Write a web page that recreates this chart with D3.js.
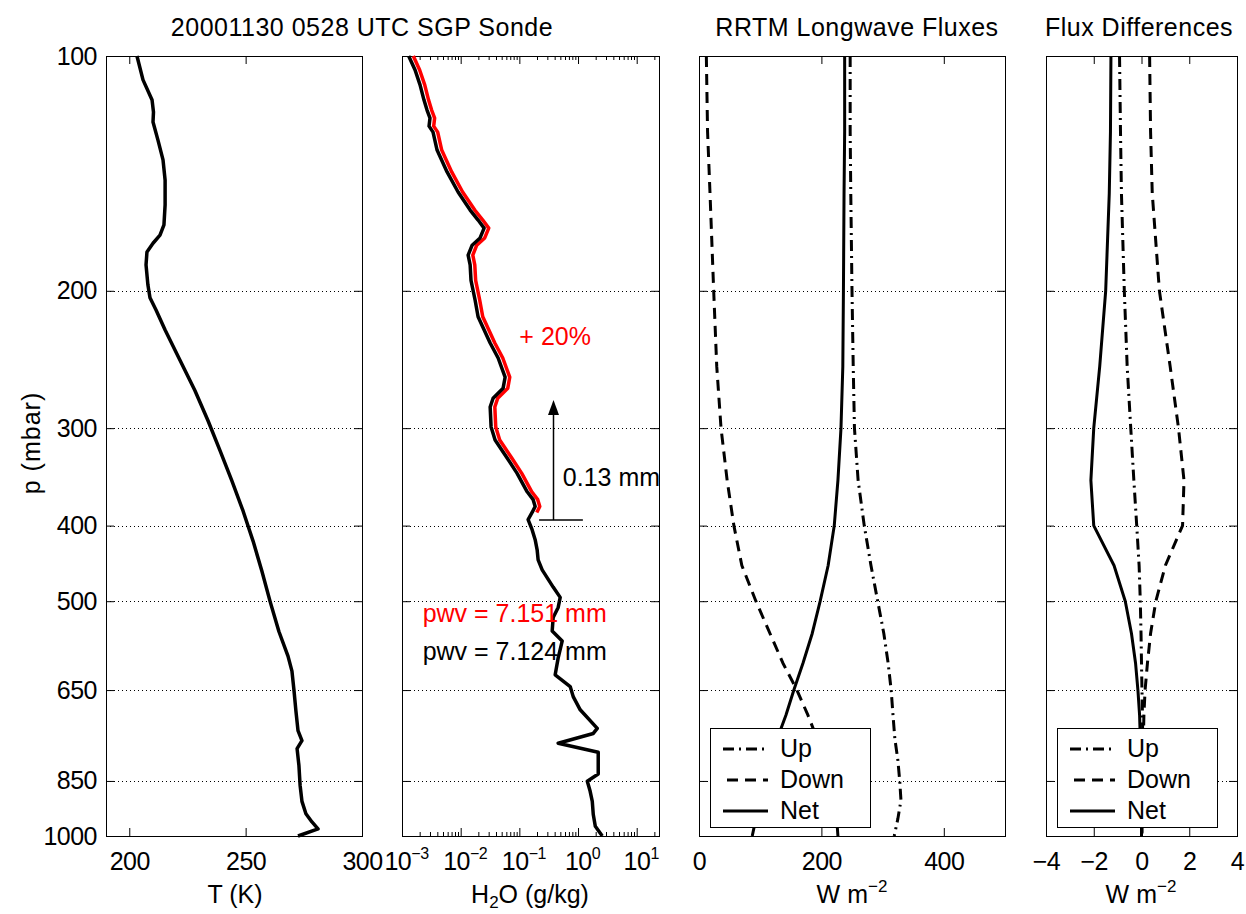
<!DOCTYPE html>
<html>
<head>
<meta charset="utf-8">
<script src="https://cdn.jsdelivr.net/npm/d3@7"></script>
<style>
  body { margin: 0; background: #fff; }
  svg text { font-family: "Liberation Sans", Arial, Helvetica, sans-serif; }
</style>
</head>
<body>
<svg id="chart" width="1246" height="914"></svg>
<script>
// pressure axis (mbar)
const pTicks = [100, 200, 300, 400, 500, 650, 850, 1000];
const gridP = [200, 300, 400, 500, 650, 850];

// sonde temperature profile
const tempP = [100, 107.3, 113.9, 118.0, 121.5, 128.1, 135.9, 144.3, 155.2, 164.6, 169.7, 173.8, 178.3, 185.3, 196.5, 204.2, 211.7, 224.5, 245.5, 268.4, 293.3, 320.6, 350.5, 383.1, 418.7, 457.7, 500.3, 546.8, 588.1, 614.6, 651.7, 691.0, 732.7, 754.6, 772.6, 812.2, 860.7, 902.9, 936.2, 959.4, 979.1, 1000];
const tempT = [203.3, 205.9, 209.8, 210.4, 210.2, 212.3, 214.5, 215.4, 215.4, 214.9, 213.2, 210.2, 207.6, 207.2, 208.0, 208.9, 211.5, 215.4, 221.8, 228.2, 233.8, 239.0, 244.1, 248.9, 253.2, 257.0, 260.5, 264.3, 268.2, 269.9, 270.8, 271.6, 272.5, 274.2, 272.1, 272.9, 273.4, 274.2, 275.9, 278.5, 281.1, 272.5];

// water vapour mixing ratio (g/kg)
const wvP = [100, 104.2, 108.9, 113.9, 117.3, 120.1, 123.0, 125.2, 132.0, 140.8, 149.4, 157.6, 162.3, 166.2, 171.1, 174.8, 180.0, 185.3, 193.9, 205.5, 215.9, 233.3, 243.9, 258.1, 266.6, 274.6, 281.8, 298.9, 310.6, 327.6, 342.8, 362.0, 370.5, 378.1, 384.8, 392.9, 404.8, 417.0, 429.6, 442.6, 455.9, 479.6, 494.4, 509.3, 524.7, 545.9, 562.4, 591.1, 621.3, 643.2, 662.7, 689.0, 727.7, 738.8, 760.5, 781.0, 832.9, 850.7, 876.3, 902.9, 938.7, 971.6, 1000];
const wvQ = [0.0013, 0.00167, 0.00203, 0.00237, 0.00267, 0.0030, 0.00289, 0.00338, 0.00396, 0.00586, 0.00903, 0.0145, 0.0198, 0.0251, 0.0214, 0.0157, 0.0134, 0.0145, 0.0150, 0.0176, 0.0198, 0.0318, 0.0435, 0.0572, 0.0529, 0.0357, 0.0318, 0.0330, 0.0386, 0.0619, 0.0916, 0.136, 0.172, 0.186, 0.165, 0.141, 0.165, 0.186, 0.201, 0.209, 0.245, 0.377, 0.497, 0.459, 0.377, 0.363, 0.537, 0.459, 0.408, 0.736, 0.828, 1.09, 2.13, 1.82, 0.459, 2.21, 2.21, 1.44, 1.61, 1.75, 1.82, 1.97, 2.59];
// +20% profile above ~385 mbar (same levels as wvP)
const wvQPlus = [0.00156, 0.0020, 0.00244, 0.00284, 0.0032, 0.0036, 0.00347, 0.00406, 0.00475, 0.00703, 0.0108, 0.0174, 0.0238, 0.0301, 0.0257, 0.0188, 0.0161, 0.0174, 0.018, 0.0211, 0.0238, 0.0382, 0.0522, 0.0686, 0.0635, 0.0428, 0.0382, 0.0396, 0.0463, 0.0743, 0.110, 0.163, 0.206, 0.223, 0.198];

// RRTM fluxes (W m-2)
const fluxP = [100, 125, 150, 200, 250, 300, 350, 400, 450, 500, 550, 600, 650, 700, 750, 800, 850, 900, 950, 1000];
const upFlux = [247, 247, 248, 250, 252, 254, 260, 270, 281, 292, 302, 309, 314, 317, 320, 325, 328, 330, 325, 319];
const downFlux = [12, 14, 18, 24, 29, 36, 46, 57, 70, 93, 116, 137, 160, 178, 193, 206, 216, 222, 225, 227];
const netFlux = [238, 238, 237, 236, 235, 232, 227, 221, 211, 198, 185, 170, 155, 142, 128, 116, 106, 99, 93, 87];

// flux differences (W m-2)
const upDiff = [-0.92, -0.88, -0.84, -0.72, -0.6, -0.45, -0.32, -0.2, -0.1, -0.05, -0.02, 0.0, 0.02, 0.04, 0.05, 0.05, 0.04, 0.03, 0.02, 0.0];
const downDiff = [0.34, 0.38, 0.45, 0.75, 1.2, 1.55, 1.78, 1.72, 1.0, 0.6, 0.38, 0.25, 0.15, 0.1, 0.08, 0.06, 0.05, 0.04, 0.03, 0.02];
const netDiff = [-1.28, -1.3, -1.35, -1.5, -1.75, -2.0, -2.12, -2.0, -1.15, -0.68, -0.42, -0.25, -0.15, -0.08, -0.05, -0.03, -0.02, -0.01, 0, 0];

const legendNames = ["Up", "Down", "Net"];

const plotTop = 56, plotBottom = 836;
const FONT = 25;
const dashes = { Up: "11,5,2,5", Down: "11,7", Net: null };

const svg = d3.select("#chart");

const y = d3.scaleLog().domain([100, 1000]).range([plotTop, plotBottom]);
const xT = d3.scaleLinear().domain([190, 300]).range([106, 362]);
const xQ = d3.scaleLog().domain([1e-3, 24]).range([402, 659]);
const xF = d3.scaleLinear().domain([0, 500]).range([699, 1005]);
const xD = d3.scaleLinear().domain([-4, 4]).range([1046, 1237]);

function drawPanel(x, xTicks, xFormat, yLabels, minorTicks) {
    const [x0, x1] = x.range();
    const g = svg.append("g");

    g.selectAll("line.grid")
        .data(gridP)
        .join("line")
        .attr("class", "grid")
        .attr("x1", x0).attr("x2", x1)
        .attr("y1", d => Math.round(y(d)) + 0.5)
        .attr("y2", d => Math.round(y(d)) + 0.5)
        .attr("stroke", "#000")
        .attr("stroke-dasharray", "1,3");

    const axes = [
        [d3.axisBottom(x).tickValues(xTicks).tickSizeInner(-8).tickPadding(16).tickFormat(xFormat), `translate(0,${plotBottom})`, "xlab"],
        [d3.axisTop(x).tickValues(xTicks).tickSizeInner(-8).tickFormat(""), `translate(0,${plotTop})`],
        [d3.axisLeft(y).tickValues(pTicks).tickSizeInner(-8).tickPadding(9).tickFormat(yLabels ? d3.format("d") : ""), `translate(${x0},0)`],
        [d3.axisRight(y).tickValues(pTicks).tickSizeInner(-8).tickFormat(""), `translate(${x1},0)`]
    ];
    if (minorTicks) {
        axes.push([d3.axisBottom(x).tickValues(minorTicks).tickSizeInner(-4).tickFormat(""), `translate(0,${plotBottom})`]);
        axes.push([d3.axisTop(x).tickValues(minorTicks).tickSizeInner(-4).tickFormat(""), `translate(0,${plotTop})`]);
    }
    axes.forEach(([axis, tr, cls]) => {
        g.append("g")
            .attr("class", cls || null)
            .attr("transform", tr)
            .call(axis.tickSizeOuter(0))
            .call(a => a.select(".domain").remove())
            .attr("font-size", FONT)
            .attr("font-family", null)
            .attr("letter-spacing", -0.5);
    });

    g.append("rect")
        .attr("x", Math.round(x0) + 0.5)
        .attr("y", plotTop + 0.5)
        .attr("width", Math.round(x1) - Math.round(x0))
        .attr("height", plotBottom - plotTop)
        .attr("fill", "none")
        .attr("stroke", "#000");
    return g;
}

function drawProfile(x, xs, ps, color, dash, width) {
    svg.append("path")
        .datum(d3.zip(xs, ps))
        .attr("d", d3.line().x(d => x(d[0])).y(d => y(d[1])))
        .attr("fill", "none")
        .attr("stroke", color)
        .attr("stroke-width", width || 3)
        .attr("stroke-linejoin", "round")
        .attr("stroke-dasharray", dash);
}

function drawLegend(x) {
    const x0 = x.range()[0];
    const lg = svg.append("g").attr("transform", `translate(${x0 + 11},728)`);
    lg.append("rect")
        .attr("x", 0.5).attr("y", 0.5)
        .attr("width", 160).attr("height", 99)
        .attr("fill", "#fff").attr("stroke", "#000");
    const rows = lg.selectAll("g.row")
        .data(legendNames)
        .join("g")
        .attr("transform", (d, i) => `translate(0,${21 + i * 31})`);
    rows.append("line")
        .attr("x1", d => d === "Down" ? 17 : 13).attr("x2", 58)
        .attr("stroke", "#000").attr("stroke-width", 3)
        .attr("stroke-dasharray", d => dashes[d]);
    rows.append("text")
        .attr("x", 70).attr("y", 8)
        .attr("font-size", FONT)
        .text(d => d);
}

function addLabel(text, cx) {
    const t = svg.append("text")
        .attr("x", cx).attr("y", 903)
        .attr("text-anchor", "middle")
        .attr("font-size", FONT);
    text.forEach(part => {
        const ts = t.append("tspan").text(part.s);
        if (part.sup) ts.attr("dy", -11).attr("font-size", 17);
        if (part.sub) ts.attr("dy", 5).attr("font-size", 17);
        if (part.back) ts.attr("dy", part.back);
    });
}

// panel 1: temperature
drawPanel(xT, [200, 250, 300], d3.format("d"), true);
drawProfile(xT, tempT, tempP, "#000", null, 3.5);

// panel 2: water vapour (log axis)
const qMajor = [1e-3, 1e-2, 1e-1, 1, 10];
const qMinor = [];
qMajor.forEach(m => d3.range(2, 10).forEach(k => { if (m * k <= 24) qMinor.push(m * k); }));
const p2 = drawPanel(xQ, qMajor, d3.format(""), false, qMinor);
p2.select("g.xlab")
    .selectAll(".tick text")
    .attr("x", 4)
    .each(function (d) {
        const e = Math.round(Math.log10(d));
        const t = d3.select(this).text(null);
        t.append("tspan").text("10");
        t.append("tspan").attr("dy", -11).attr("font-size", 16).text(e < 0 ? "\u2212" + (-e) : e);
    });
drawProfile(xQ, wvQPlus, wvP.slice(0, wvQPlus.length), "#ff0000", null, 3.5);
drawProfile(xQ, wvQ, wvP, "#000", null, 3.5);

// annotations in panel 2
svg.append("text").attr("x", xQ(0.1)).attr("y", y(235)).attr("fill", "#ff0000").attr("font-size", FONT).text("+ 20%");
svg.append("text").attr("x", xQ(0.00225)).attr("y", y(531)).attr("fill", "#ff0000").attr("font-size", FONT).text("pwv = 7.151 mm");
svg.append("text").attr("x", xQ(0.00225)).attr("y", y(595)).attr("fill", "#000").attr("font-size", FONT).text("pwv = 7.124 mm");
svg.append("text").attr("x", xQ(0.55)).attr("y", y(356)).attr("fill", "#000").attr("font-size", FONT).text("0.13 mm");
const ax = Math.round(xQ(0.373)) + 0.5;
svg.append("line")
    .attr("x1", xQ(0.217)).attr("x2", xQ(1.21))
    .attr("y1", y(393.5)).attr("y2", y(393.5))
    .attr("stroke", "#000").attr("stroke-width", 1.5);
svg.append("line")
    .attr("x1", ax).attr("x2", ax)
    .attr("y1", y(393.5)).attr("y2", y(276) + 12)
    .attr("stroke", "#000").attr("stroke-width", 1.5);
svg.append("path")
    .attr("d", `M${ax},${y(276)} L${ax - 5.5},${y(276) + 15} L${ax + 5.5},${y(276) + 15} Z`)
    .attr("fill", "#000");

// panel 3: RRTM fluxes
drawPanel(xF, [0, 200, 400], d3.format("d"), false);
drawProfile(xF, upFlux, fluxP, "#000", dashes.Up);
drawProfile(xF, downFlux, fluxP, "#000", dashes.Down);
drawProfile(xF, netFlux, fluxP, "#000", dashes.Net);
drawLegend(xF);

// panel 4: flux differences
drawPanel(xD, [-4, -2, 0, 2, 4], d3.format("d"), false);
drawProfile(xD, upDiff, fluxP, "#000", dashes.Up);
drawProfile(xD, downDiff, fluxP, "#000", dashes.Down);
drawProfile(xD, netDiff, fluxP, "#000", dashes.Net);
drawLegend(xD);

// titles
[["20001130 0528 UTC SGP Sonde", 362], ["RRTM Longwave Fluxes", 857], ["Flux Differences", 1139]].forEach(([s, cx]) => {
    svg.append("text")
        .attr("x", cx).attr("y", 36)
        .attr("text-anchor", "middle")
        .attr("font-size", FONT)
        .attr("letter-spacing", 0.5)
        .text(s);
});

// axis labels
addLabel([{ s: "T (K)" }], 235);
addLabel([{ s: "H" }, { s: "2", sub: true }, { s: "O (g/kg)", back: -5 }], 530);
addLabel([{ s: "W m" }, { s: "\u22122", sup: true }], 852);
addLabel([{ s: "W m" }, { s: "\u22122", sup: true }], 1141);

svg.append("text")
    .attr("transform", "translate(40,443) rotate(-90)")
    .attr("text-anchor", "middle")
    .attr("font-size", FONT)
    .attr("letter-spacing", 1)
    .text("p (mbar)");
</script>
</body>
</html>
